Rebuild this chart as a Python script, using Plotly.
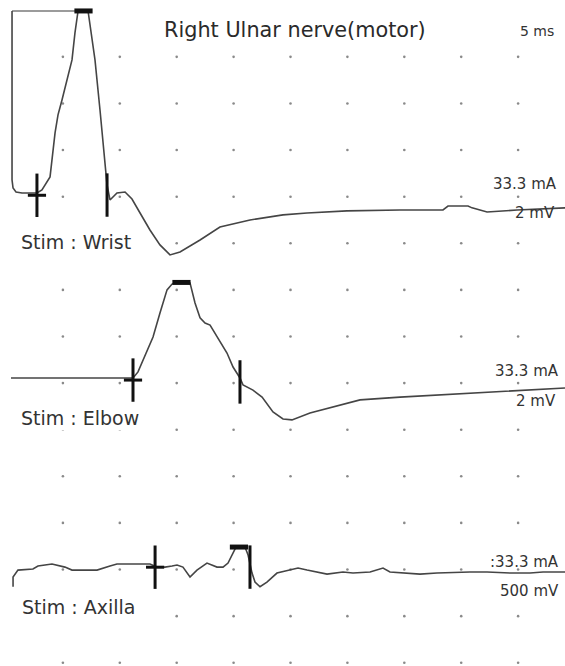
import plotly.graph_objects as go

W, H = 565, 666

# ---------------- data (time in ms, amplitude in mV) ----------------
wrist_t = [0.53, 0.53, 0.62, 0.88, 1.41, 2.72, 3.16, 3.60, 3.87, 4.31, 4.57, 4.92, 5.45, 5.80, 6.06, 6.33,
           7.21, 7.82, 8.26, 8.70, 8.88, 9.14, 9.75, 10.46, 11.07, 11.78, 12.65, 13.53, 14.41, 15.29,
           17.05, 18.80, 21.44, 24.34, 26.45, 29.96, 34.62, 38.40, 38.84, 40.60, 40.95, 42.27, 44.90, 49.12]
wrist_mv = [7.81, 0.56, 0.21, 0.04, 0.0, 0.0, 0.13, 0.47, 0.69, 2.58, 3.35, 3.99, 4.98, 5.71, 6.87, 7.81,
            7.81, 5.71, 3.56, 1.42, 0.34, -0.30, 0.0, 0.04, -0.26, -0.86, -1.59, -2.23, -2.66, -2.53,
            -2.02, -1.46, -1.16, -0.94, -0.86, -0.77, -0.73, -0.73, -0.56, -0.56, -0.64, -0.82, -0.73, -0.64]
wrist_clip_t = [0.53, 6.33]
wrist_clip_mv = [7.81, 7.81]

elbow_t = [0.44, 11.16, 11.60, 12.04, 12.92, 13.53, 14.15, 14.59, 15.03, 16.17, 16.61, 17.05, 17.49,
           17.93, 18.54, 19.42, 19.95, 20.56, 20.83, 21.70, 22.50, 23.46, 24.34, 25.13, 26.71, 28.73,
           31.11, 34.62, 38.14, 42.27, 45.43, 49.12]
elbow_mv = [0.0, 0.0, 0.26, 0.77, 1.76, 2.79, 3.78, 4.03, 4.12, 4.08, 3.22, 2.58, 2.36,
            2.27, 1.76, 1.07, 0.47, 0.0, -0.30, -0.52, -0.82, -1.46, -1.76, -1.80, -1.50, -1.24,
            -0.94, -0.82, -0.73, -0.60, -0.52, -0.43]

axilla_t = [0.62, 0.62, 1.05, 2.37, 2.81, 4.04, 5.18, 5.80, 8.00, 8.52, 9.14, 9.75, 12.65, 13.27,
            13.97, 14.59, 15.03, 15.55, 16.17, 16.78, 17.66, 18.54, 19.07, 19.51, 19.95, 20.21, 21.00,
            21.27, 21.62, 21.88, 22.32, 22.93, 23.81, 24.69, 25.66, 26.45, 27.59, 28.21, 29.61, 30.49,
            31.99, 32.86, 33.13, 33.74, 34.89, 36.38, 37.87, 39.63, 40.77, 42.27, 44.29, 46.05, 47.19, 49.12]
axilla_mv = [-0.19, -0.086, -0.011, 0.0, 0.032, 0.054, 0.021, -0.011, -0.011, 0.011, 0.032, 0.054, 0.054, 0.021,
             0.021, 0.032, 0.043, 0.021, -0.086, -0.011, 0.064, 0.021, 0.021, 0.064, 0.17, 0.236, 0.236,
             0.15, -0.043, -0.14, -0.19, -0.14, -0.043, -0.021, 0.011, -0.011, -0.043, -0.054, -0.032, -0.043,
             -0.032, 0.0, 0.011, -0.032, -0.043, -0.054, -0.043, -0.032, -0.032, -0.032, -0.043, -0.043, -0.032, -0.032]

# latency markers: onset, peak, end  (ms, mV)
wrist_onset = (2.72, -0.10); wrist_peak = (6.81, 7.81); wrist_end = (8.88, -0.09)
elbow_onset = (11.16, -0.09); elbow_peak = (15.42, 4.10); elbow_end = (20.56, -0.17)
axilla_onset = (13.10, 0.02); axilla_peak = (20.47, 0.236); axilla_end = (21.44, 0.021)

grid_ms = [5, 10, 15, 20, 25, 30, 35, 40, 45]
grid_div = [1, 2, 3, 4, 5, 6, 7, 8, 9, 10, 11, 12, 13, 14]

# display settings: baseline (divisions) and gain (mV / division)
channels = [
    dict(t=wrist_t, v=wrist_mv, base=11.08, gain=2.0, onset=wrist_onset, peak=wrist_peak, end=wrist_end),
    dict(t=elbow_t, v=elbow_mv, base=7.11, gain=2.0, onset=elbow_onset, peak=elbow_peak, end=elbow_end),
    dict(t=axilla_t, v=axilla_mv, base=3.01, gain=0.5, onset=axilla_onset, peak=axilla_peak, end=axilla_end),
]

TRACE_COLOR = "#454545"
fig = go.Figure()

# dotted grid
gx, gy = [], []
for r in grid_div:
    for c in grid_ms:
        gx.append(c); gy.append(r)
fig.add_trace(go.Scatter(x=gx, y=gy, mode="markers",
                         marker=dict(size=2.6, color="#8a8a8a"), hoverinfo="skip", showlegend=False))

def disp(ch, v):
    return ch["base"] + v / ch["gain"]

# clip line of the wrist channel
fig.add_trace(go.Scatter(x=wrist_clip_t, y=[disp(channels[0], v) for v in wrist_clip_mv], mode="lines",
                         line=dict(color="#7a7a7a", width=1.4), showlegend=False, hoverinfo="skip"))

for ch in channels:
    fig.add_trace(go.Scatter(x=ch["t"], y=[disp(ch, v) for v in ch["v"]], mode="lines",
                             line=dict(color=TRACE_COLOR, width=1.6, shape="linear"),
                             showlegend=False, hoverinfo="skip"))
    # onset cross
    ot, ov = ch["onset"]
    fig.add_trace(go.Scatter(x=[ot], y=[disp(ch, ov)], mode="markers",
                             marker=dict(symbol="line-ns", size=31, line=dict(color="#111", width=3)),
                             showlegend=False, hoverinfo="skip"))
    fig.add_trace(go.Scatter(x=[ot], y=[disp(ch, ov)], mode="markers",
                             marker=dict(symbol="line-ew", size=13, line=dict(color="#111", width=3)),
                             showlegend=False, hoverinfo="skip"))
    # peak bar
    pt, pv = ch["peak"]
    fig.add_trace(go.Scatter(x=[pt], y=[disp(ch, pv)], mode="markers",
                             marker=dict(symbol="line-ew", size=13, line=dict(color="#111", width=5)),
                             showlegend=False, hoverinfo="skip"))
    # end marker
    et, ev = ch["end"]
    fig.add_trace(go.Scatter(x=[et], y=[disp(ch, ev)], mode="markers",
                             marker=dict(symbol="line-ns", size=31, line=dict(color="#111", width=3)),
                             showlegend=False, hoverinfo="skip"))

def px2paper(x, y):
    return x / W, 1 - y / H

FONT = "DejaVu Sans"
ann = []
def label(text, x, y, size, xanchor, color="#333", bg=None):
    px, py = px2paper(x, y)
    d = dict(text=text, x=px, y=py, xref="paper", yref="paper", showarrow=False,
             xanchor=xanchor, yanchor="middle", font=dict(family=FONT, size=size, color=color))
    if bg:
        d["bgcolor"] = bg
    ann.append(d)

label("Right Ulnar nerve(motor)", 294.5, 30, 20.8, "center", color="#2a2a2a")
label("5 ms", 556, 31, 14, "right")
label("33.3 mA", 559, 184, 15, "right")
label("2 mV", 557, 213, 15, "right")
label("Stim : Wrist", 19, 242, 19, "left", bg="white")
label("33.3 mA", 561, 371, 15, "right")
label("2 mV", 558, 401, 15, "right")
label("Stim : Elbow", 19, 418, 19, "left", bg="white")
label(":33.3 mA", 561, 562, 15, "right")
label("500 mV", 561, 591, 15, "right")
label("Stim : Axilla", 20, 607, 19, "left", bg="white")

fig.update_layout(
    width=W, height=H,
    margin=dict(l=0, r=0, t=0, b=0),
    paper_bgcolor="white", plot_bgcolor="white",
    xaxis=dict(range=[-0.527, 49.12], visible=False, fixedrange=True),
    yaxis=dict(range=[0.93, 15.22], visible=False, fixedrange=True),
    annotations=ann,
    showlegend=False,
)

fig.write_html("out.html", config={"displayModeBar": False},
               post_script="document.body.style.margin='0px';document.body.style.overflow='hidden';")
